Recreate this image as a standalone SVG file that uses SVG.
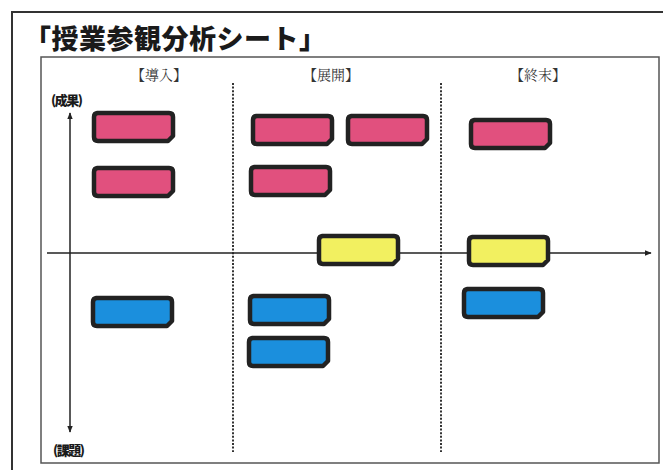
<svg xmlns="http://www.w3.org/2000/svg" width="663" height="470" viewBox="0 0 663 470">
<style>
.frame{fill:none;stroke:#333;stroke-width:2}
.inner{fill:none;stroke:#555;stroke-width:1.5}
.title{font-family:"Noto Sans CJK JP",sans-serif;font-weight:900;font-size:27px;fill:#1a1a1a}
.head{font-family:"Noto Serif CJK JP","Noto Sans CJK JP",serif;font-size:14px;fill:#333}
.axlab{font-family:"Noto Sans CJK JP",sans-serif;font-weight:900;font-size:13px;fill:#1a1a1a;letter-spacing:-1.5px}
.dot{stroke:#333;stroke-width:2;stroke-dasharray:2 1.6;fill:none}
.axis{stroke:#222;stroke-width:1.5;fill:none}
.box{stroke:#222;stroke-width:4.5;stroke-linejoin:round}
.pink{fill:#E1507E}
.yellow{fill:#F2F060}
.blue{fill:#1B8FDD}
</style>
<defs>
<marker id="ah" viewBox="0 0 10 10" refX="9" refY="5" markerWidth="7" markerHeight="7" orient="auto-start-reverse" markerUnits="userSpaceOnUse">
<path d="M0,1 L10,5 L0,9 Z" fill="#222"/>
</marker>
<path id="bx" d="M5,2 H77 Q81,2 81,6 V25 L76,30 H6 Q2,30 2,26 V6 Q2,2 6,2 Z"/>
</defs>
<rect width="663" height="470" fill="#fff"/>
<path class="frame" d="M12,470 V12 H663"/>
<rect class="inner" x="41" y="57" width="618" height="406"/>
<text class="title" x="24" y="49" letter-spacing="0.5">「授業参観分析シート」</text>
<g id="headers">
<text class="head" x="159" y="80" text-anchor="middle">【導入】</text>
<text class="head" x="331" y="80" text-anchor="middle">【展開】</text>
<text class="head" x="538" y="80" text-anchor="middle">【終末】</text>
<text class="axlab" x="51" y="105">(成果)</text>
<text class="axlab" x="53" y="455">(課題)</text>
</g>
<g id="connectors">
<line class="dot" x1="233" y1="83" x2="233" y2="452"/>
<line class="dot" x1="441" y1="83" x2="441" y2="452"/>
<line class="axis" x1="70" y1="113" x2="70" y2="432" marker-start="url(#ah)" marker-end="url(#ah)"/>
<line class="axis" x1="47" y1="253" x2="651" y2="253" marker-end="url(#ah)"/>
</g>
<g id="p1"><use href="#bx" class="box pink" transform="translate(92,111)"/></g>
<g id="p2"><use href="#bx" class="box pink" transform="translate(92,166)"/></g>
<g id="p3"><use href="#bx" class="box pink" transform="translate(251,114)"/></g>
<g id="p4"><use href="#bx" class="box pink" transform="translate(346,114)"/></g>
<g id="p5"><use href="#bx" class="box pink" transform="translate(249,165)"/></g>
<g id="p6"><use href="#bx" class="box pink" transform="translate(469,118)"/></g>
<g id="y1"><use href="#bx" class="box yellow" transform="translate(317,234)"/></g>
<g id="y2"><use href="#bx" class="box yellow" transform="translate(467,235)"/></g>
<g id="b1"><use href="#bx" class="box blue" transform="translate(91,296)"/></g>
<g id="b2"><use href="#bx" class="box blue" transform="translate(248,294)"/></g>
<g id="b3"><use href="#bx" class="box blue" transform="translate(247,336)"/></g>
<g id="b4"><use href="#bx" class="box blue" transform="translate(462,287)"/></g>
</svg>
